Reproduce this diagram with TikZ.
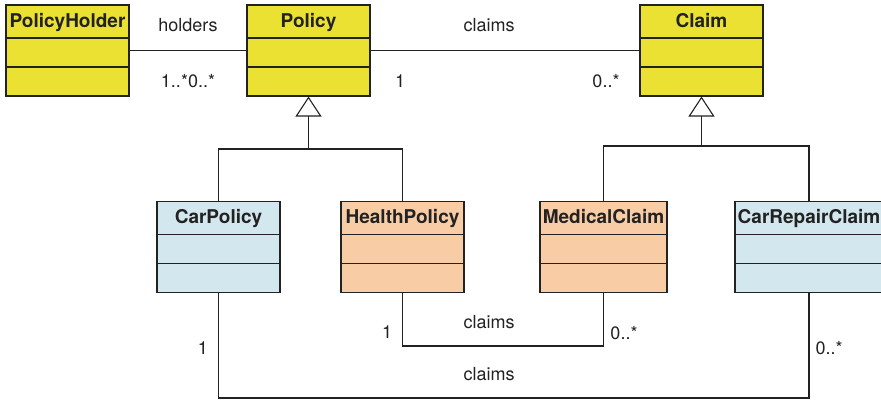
\documentclass[tikz,border=0pt]{standalone}
\usepackage{fontspec}
\setmainfont{TeX Gyre Heros}
\usetikzlibrary{arrows.meta}
\definecolor{clsyellow}{HTML}{EBE133}
\definecolor{clsblue}{HTML}{D3E8EE}
\definecolor{clspeach}{HTML}{F8CDA6}
\definecolor{ink}{HTML}{222222}
\tikzset{
  classbox/.style={draw=ink, line width=1.1pt, minimum height=91pt, inner sep=0pt,
    path picture={
      \draw[ink, line width=1.1pt] ([yshift=-33pt]path picture bounding box.north west) -- ([yshift=-33pt]path picture bounding box.north east);
      \draw[ink, line width=1.1pt] ([yshift=-62pt]path picture bounding box.north west) -- ([yshift=-62pt]path picture bounding box.north east);
    },
    label={[font=\bfseries\fontsize{19}{22}\selectfont, text=ink, anchor=base, inner sep=0pt, yshift=-23pt]north:#1}},
  lbl/.style={font=\fontsize{18}{21}\selectfont, text=ink, anchor=base, inner sep=0pt},
  wire/.style={draw=ink, line width=1.1pt},
  inherit/.style={wire, -{Triangle[width=26pt, length=20pt, fill=white, line width=1.1pt]}}
}
\begin{document}
\begin{tikzpicture}[x=1pt, y=-1pt]
\useasboundingbox (0,0) rectangle (881,401);

% classes
\node[classbox=PolicyHolder, fill=clsyellow, minimum width=123pt] (holder) at (67.5,50.5) {};
\node[classbox=Policy, fill=clsyellow, minimum width=123pt] (policy) at (308.5,50.5) {};
\node[classbox=Claim, fill=clsyellow, minimum width=123pt] (claim) at (701.5,50.5) {};
\node[classbox=CarPolicy, fill=clsblue, minimum width=123pt] (carpol) at (218.5,247) {};
\node[classbox=HealthPolicy, fill=clspeach, minimum width=123pt] (healthpol) at (402.5,247) {};
\node[classbox=MedicalClaim, fill=clspeach, minimum width=127pt] (medclaim) at (603.5,247) {};
\node[classbox=CarRepairClaim, fill=clsblue, minimum width=148pt] (repclaim) at (809,247) {};

% associations
\draw[wire] (holder.east) -- (policy.west);
\draw[wire] (policy.east) -- (claim.west);
\coordinate (hmid) at (402.5,346);
\coordinate (cmid) at (218.5,398);
\draw[wire] (healthpol.south) |- (hmid) -| (medclaim.south);
\draw[wire] (carpol.south) |- (cmid) -| (repclaim.south);

% generalisations
\coordinate (pjoin) at (308.5,149);
\coordinate (cjoin) at (701.5,146);
\draw[wire] (carpol.north) |- (pjoin) -| (healthpol.north);
\draw[inherit] (pjoin) -- (policy.south);
\draw[wire] (medclaim.north) |- (cjoin) -| (repclaim.north);
\draw[inherit] (cjoin) -- (claim.south);

% association labels
\node[lbl] (tholders) at (188,32) {holders};
\node[lbl] (tholdmult) at (188,88) {1..*0..*};
\node[lbl] (tclaims) at (489,32) {claims};
\node[lbl] (tpolone) at (400,88) {1};
\node[lbl] (tclaimmult) at (606,88) {0..*};
\node[lbl] (thclaims) at (489,328) {claims};
\node[lbl] (thone) at (387,338) {1};
\node[lbl] (tmedmult) at (624,339) {0..*};
\node[lbl] (tcclaims) at (489,380) {claims};
\node[lbl] (tcone) at (203,354) {1};
\node[lbl] (trepmult) at (829,354) {0..*};
\end{tikzpicture}
\end{document}
